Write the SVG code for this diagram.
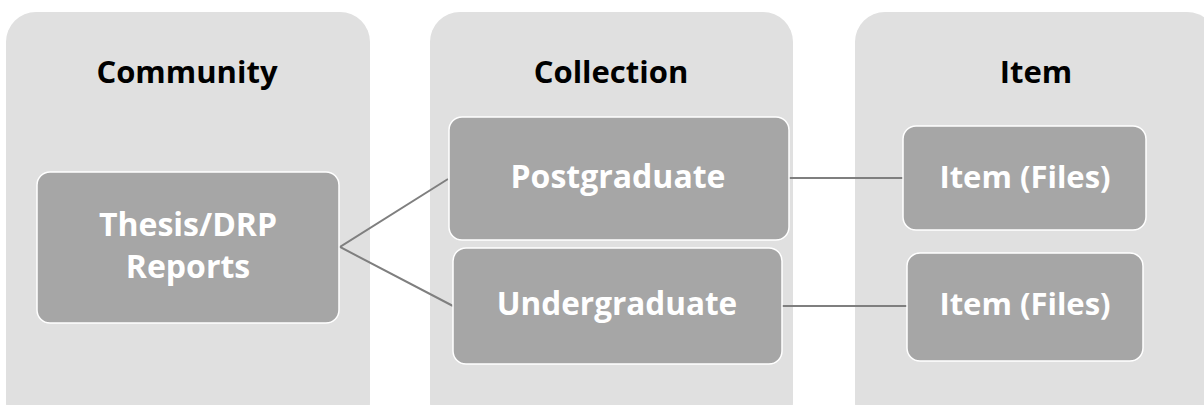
<svg xmlns="http://www.w3.org/2000/svg" width="1204" height="405" viewBox="0 0 1204 405">
<style>
.panel{fill:#e0e0e0}
.box{fill:#a6a6a6;stroke:#ffffff;stroke-width:1.5}
.title{font-family:"Open Sans","Liberation Sans",sans-serif;font-weight:bold;font-size:31px;fill:#000;text-anchor:middle}
.label{font-family:"Open Sans","Liberation Sans",sans-serif;font-weight:bold;font-size:32px;fill:#fff;text-anchor:middle}
.conn{stroke:#7f7f7f;stroke-width:2;fill:none}
</style>
<rect width="1204" height="405" fill="#ffffff"/>
<g id="panel-community">
<rect class="panel" x="6" y="12" width="364" height="420" rx="30"/>
<text class="title" x="187" y="83">Community</text>
</g>
<g id="panel-collection">
<rect class="panel" x="430" y="12" width="363" height="420" rx="30"/>
<text class="title" x="611" y="83">Collection</text>
</g>
<g id="panel-item">
<rect class="panel" x="855" y="12" width="362" height="420" rx="30"/>
<text class="title" x="1036" y="83">Item</text>
</g>
<g id="connectors">
<polyline class="conn" points="448,179 340,247 453,306"/>
<line class="conn" x1="789" y1="178" x2="903" y2="178"/>
<line class="conn" x1="782" y1="306" x2="907" y2="306"/>
</g>
<g id="node-thesis">
<rect class="box" x="37" y="172" width="302" height="151" rx="13"/>
<text class="label" x="188" y="236">Thesis/DRP</text>
<text class="label" x="188" y="278">Reports</text>
</g>
<g id="node-postgraduate">
<rect class="box" x="449" y="117" width="340" height="123" rx="13"/>
<text class="label" x="618" y="188">Postgraduate</text>
</g>
<g id="node-undergraduate">
<rect class="box" x="453" y="248" width="329" height="116" rx="13"/>
<text class="label" x="617" y="315" style="font-size:31.5px">Undergraduate</text>
</g>
<g id="node-item1">
<rect class="box" x="903" y="126" width="243" height="104" rx="13"/>
<text class="label" x="1025" y="188" style="font-size:31px">Item (Files)</text>
</g>
<g id="node-item2">
<rect class="box" x="907" y="253" width="236" height="108" rx="13"/>
<text class="label" x="1025" y="315" style="font-size:31px">Item (Files)</text>
</g>
</svg>
